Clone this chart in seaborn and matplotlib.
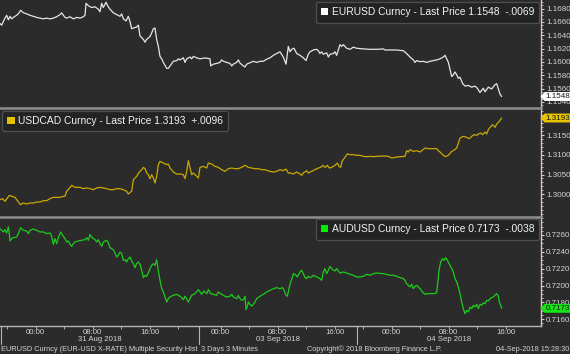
import matplotlib
matplotlib.use("Agg")
import matplotlib.pyplot as plt
import seaborn as sns
import pandas as pd
from matplotlib.patches import Patch
from matplotlib.path import Path
from matplotlib.lines import Line2D
import matplotlib.transforms as mtransforms
from matplotlib.ticker import MultipleLocator, FixedLocator, FormatStrFormatter

# ---------------- data (time in session hours, price) ----------------
EURUSD = [(0.00,1.16576),(0.23,1.16550),(0.47,1.16603),(0.70,1.16656),(0.94,1.16699),(1.17,1.16630),(1.40,1.16683),(1.64,1.16645),(1.87,1.16667),(2.34,1.16699),(2.57,1.16720),(2.90,1.16773),(3.28,1.16736),(3.75,1.16720),(4.21,1.16699),(4.68,1.16683),(5.15,1.16667),(5.62,1.16656),(6.09,1.16645),(6.55,1.16656),(7.02,1.16645),(7.49,1.16656),(7.96,1.16677),(8.43,1.16709),(8.66,1.16736),(8.90,1.16699),(9.13,1.16667),(9.36,1.16656),(9.83,1.16677),(10.30,1.16645),(10.77,1.16667),(11.24,1.16656),(11.70,1.16677),(11.94,1.16699),(12.08,1.16879),(12.41,1.16842),(12.87,1.16815),(13.34,1.16826),(13.81,1.16789),(14.04,1.16751),(14.28,1.16879),(14.51,1.16815),(14.89,1.16895),(15.12,1.16842),(15.45,1.16789),(15.92,1.16736),(16.39,1.16709),(16.85,1.16683),(17.09,1.16720),(17.32,1.16645),(17.70,1.16614),(18.02,1.16683),(18.26,1.16603),(18.49,1.16497),(18.73,1.16507),(19.19,1.16523),(19.43,1.16550),(19.66,1.16390),(20.13,1.16337),(20.37,1.16295),(20.60,1.16337),(21.07,1.16380),(21.30,1.16433),(21.54,1.16497),(21.77,1.16507),(22.00,1.16337),(22.24,1.16231),(22.47,1.16082),(22.71,1.16045),(22.94,1.15992),(23.41,1.15902),(23.64,1.15902),(23.88,1.15939),(24.11,1.15976),(24.34,1.16008),(24.81,1.16019),(25.05,1.16045),(25.28,1.16029),(25.75,1.16061),(25.98,1.15992),(26.22,1.16045),(26.69,1.16072),(26.92,1.16045),(27.15,1.16082),(27.62,1.16061),(28.09,1.16045),(28.56,1.16056),(29.03,1.16056),(29.49,1.16045),(29.59,1.15939),(29.96,1.15965),(30.43,1.15976),(30.90,1.15992),(31.13,1.16029),(31.37,1.16008),(31.84,1.15992),(32.30,1.15976),(32.54,1.15939),(32.77,1.15965),(33.24,1.15992),(33.47,1.16029),(33.71,1.15981),(34.18,1.15939),(34.41,1.15923),(34.64,1.15965),(35.11,1.15987),(35.58,1.16008),(36.05,1.15992),(36.52,1.16008),(36.99,1.16008),(37.45,1.16040),(37.92,1.16060),(38.39,1.16098),(38.86,1.16125),(39.32,1.16151),(39.79,1.16072),(40.17,1.15965),(40.49,1.16231),(40.73,1.16151),(40.96,1.16188),(41.29,1.16204),(41.67,1.16125),(42.13,1.16098),(42.60,1.16061),(42.98,1.16019),(43.30,1.16114),(43.54,1.16151),(44.01,1.16178),(44.47,1.16188),(44.71,1.16167),(44.94,1.16125),(45.18,1.16151),(45.41,1.16114),(45.88,1.16135),(46.11,1.16072),(46.35,1.16114),(46.82,1.16125),(47.05,1.16151),(47.28,1.16098),(47.52,1.16178),(47.75,1.16258),(47.99,1.16231),(48.22,1.16258),(48.69,1.16204),(49.16,1.16188),(49.62,1.16220),(50.09,1.16204),(51.03,1.16194),(51.97,1.16188),(52.90,1.16188),(53.84,1.16194),(54.07,1.16178),(54.77,1.16178),(55.71,1.16178),(56.65,1.16167),(57.11,1.16125),(57.58,1.16072),(58.05,1.16029),(58.29,1.15992),(58.52,1.16019),(58.99,1.16003),(59.46,1.16008),(59.92,1.15992),(60.39,1.16008),(60.86,1.16019),(61.33,1.16029),(61.80,1.16045),(62.26,1.16072),(62.50,1.16098),(62.73,1.16045),(62.97,1.15992),(63.20,1.15886),(63.44,1.15779),(63.67,1.15806),(63.90,1.15848),(64.14,1.15806),(64.37,1.15753),(64.61,1.15769),(64.98,1.15673),(65.31,1.15636),(65.78,1.15646),(66.24,1.15620),(66.71,1.15636),(67.04,1.15604),(67.41,1.15540),(67.88,1.15604),(68.12,1.15551),(68.58,1.15620),(69.05,1.15593),(69.52,1.15657),(69.76,1.15673),(69.99,1.15593),(70.23,1.15514),(70.45,1.15480)]

USDCAD = [(0.00,1.29865),(0.37,1.29890),(0.70,1.29823),(1.03,1.29907),(1.31,1.29974),(1.64,1.29949),(2.11,1.29923),(2.34,1.29865),(2.57,1.29806),(2.90,1.29738),(3.28,1.29780),(3.75,1.29755),(4.21,1.29780),(4.68,1.29780),(5.15,1.29806),(5.62,1.29806),(6.09,1.29839),(6.55,1.29839),(7.02,1.29890),(7.49,1.29923),(7.96,1.29923),(8.43,1.29923),(8.90,1.29949),(9.13,1.29949),(9.36,1.30075),(9.83,1.30176),(10.07,1.30227),(10.53,1.30176),(11.24,1.30176),(11.70,1.30143),(12.17,1.30160),(12.64,1.30143),(13.11,1.30117),(13.58,1.30160),(14.04,1.30176),(14.51,1.30160),(14.98,1.30143),(15.45,1.30117),(15.92,1.30117),(16.39,1.30143),(16.85,1.30143),(17.32,1.30117),(17.79,1.30075),(18.02,1.30008),(18.35,1.30058),(18.49,1.30075),(18.73,1.30370),(18.96,1.30412),(19.19,1.30455),(19.57,1.30564),(19.90,1.30623),(20.13,1.30682),(20.37,1.30648),(20.60,1.30539),(20.83,1.30497),(21.07,1.30395),(21.30,1.30497),(21.54,1.30412),(21.77,1.30286),(22.00,1.30455),(22.24,1.30750),(22.47,1.30834),(22.94,1.30792),(23.41,1.30750),(23.64,1.30766),(23.88,1.30665),(24.34,1.30564),(24.81,1.30514),(25.28,1.30514),(25.75,1.30497),(25.98,1.30395),(26.22,1.30581),(26.45,1.30851),(26.69,1.30665),(26.92,1.30497),(27.15,1.30539),(27.62,1.30455),(27.86,1.30412),(28.09,1.30682),(28.56,1.30707),(29.03,1.30665),(29.26,1.30792),(29.73,1.30766),(30.20,1.30707),(30.66,1.30682),(31.13,1.30623),(31.60,1.30581),(32.07,1.30648),(32.54,1.30665),(33.01,1.30648),(33.47,1.30648),(33.94,1.30682),(34.41,1.30733),(34.88,1.30682),(35.35,1.30665),(35.81,1.30648),(36.28,1.30648),(36.75,1.30623),(37.22,1.30623),(37.92,1.30580),(38.39,1.30564),(38.86,1.30581),(39.32,1.30623),(39.79,1.30598),(40.17,1.30640),(40.49,1.30539),(40.82,1.30539),(41.20,1.30514),(41.67,1.30564),(42.13,1.30514),(42.37,1.30480),(42.60,1.30539),(43.07,1.30598),(43.30,1.30539),(43.77,1.30581),(44.24,1.30623),(44.71,1.30665),(45.04,1.30682),(45.32,1.30733),(45.64,1.30682),(45.97,1.30733),(46.25,1.30665),(46.58,1.30682),(47.05,1.30733),(47.38,1.30792),(47.61,1.30707),(47.85,1.30682),(48.03,1.30834),(48.45,1.30935),(48.78,1.31020),(49.16,1.31003),(49.62,1.31003),(50.09,1.30986),(50.56,1.30986),(51.03,1.30960),(51.50,1.30952),(51.97,1.30960),(52.43,1.30952),(52.90,1.30960),(53.84,1.30969),(54.54,1.30960),(55.01,1.30918),(55.48,1.30935),(56.18,1.30952),(56.88,1.30960),(57.11,1.31104),(57.35,1.31070),(57.58,1.31129),(58.05,1.31087),(58.52,1.31104),(58.99,1.31070),(59.46,1.31137),(59.69,1.31171),(60.16,1.31154),(60.86,1.31154),(61.33,1.31154),(61.56,1.31104),(61.80,1.31070),(62.17,1.31003),(62.50,1.30952),(62.97,1.30986),(63.44,1.31087),(63.67,1.31104),(64.14,1.31171),(64.37,1.31298),(64.61,1.31424),(65.07,1.31466),(65.54,1.31441),(65.92,1.31407),(66.24,1.31466),(66.57,1.31509),(66.95,1.31492),(67.18,1.31525),(67.51,1.31551),(67.79,1.31509),(68.12,1.31576),(68.35,1.31525),(68.58,1.31635),(68.82,1.31694),(69.19,1.31762),(69.52,1.31694),(69.76,1.31778),(70.13,1.31846),(70.45,1.31930)]

AUDUSD = [(0.00,0.72675),(0.23,0.72655),(0.47,0.72636),(0.70,0.72663),(0.94,0.72624),(1.17,0.72695),(1.31,0.72616),(1.40,0.72529),(1.64,0.72557),(1.87,0.72568),(2.34,0.72576),(2.57,0.72616),(2.90,0.72687),(3.28,0.72655),(3.75,0.72647),(3.98,0.72616),(4.21,0.72655),(4.68,0.72671),(5.15,0.72655),(5.62,0.72636),(6.09,0.72636),(6.55,0.72616),(7.02,0.72624),(7.26,0.72584),(7.49,0.72489),(7.72,0.72557),(7.96,0.72497),(8.19,0.72568),(8.52,0.72636),(8.80,0.72596),(9.13,0.72557),(9.36,0.72517),(9.60,0.72529),(9.83,0.72489),(10.07,0.72466),(10.30,0.72497),(10.53,0.72517),(11.00,0.72529),(11.47,0.72537),(11.94,0.72545),(12.17,0.72568),(12.41,0.72537),(12.64,0.72608),(12.87,0.72576),(13.11,0.72557),(13.34,0.72545),(13.58,0.72517),(13.81,0.72545),(14.04,0.72497),(14.28,0.72466),(14.51,0.72517),(14.98,0.72537),(15.22,0.72505),(15.45,0.72450),(15.92,0.72426),(16.15,0.72387),(16.39,0.72339),(16.62,0.72359),(16.85,0.72398),(17.09,0.72379),(17.32,0.72299),(17.56,0.72307),(17.79,0.72280),(18.02,0.72319),(18.26,0.72339),(18.49,0.72292),(18.73,0.72260),(18.96,0.72212),(19.19,0.72260),(19.43,0.72280),(19.66,0.72252),(19.90,0.72181),(20.13,0.72094),(20.37,0.72122),(20.60,0.72110),(20.83,0.72149),(21.07,0.72201),(21.30,0.72240),(21.54,0.72260),(21.77,0.72240),(22.00,0.72307),(22.24,0.72173),(22.47,0.72062),(22.71,0.71963),(22.94,0.71924),(23.17,0.71865),(23.41,0.71805),(23.64,0.71845),(23.88,0.71865),(24.34,0.71884),(24.81,0.71896),(25.28,0.71873),(25.51,0.71857),(25.75,0.71833),(25.98,0.71873),(26.45,0.71805),(26.69,0.71845),(26.92,0.71884),(27.39,0.71904),(27.86,0.71952),(28.09,0.71924),(28.32,0.71896),(28.65,0.71936),(29.03,0.71904),(29.26,0.71952),(29.59,0.71904),(29.96,0.71896),(30.43,0.71884),(30.66,0.71924),(31.13,0.71896),(31.60,0.71873),(31.84,0.71865),(32.30,0.71873),(32.54,0.71896),(32.77,0.71865),(33.24,0.71845),(33.47,0.71884),(33.71,0.71845),(33.94,0.71825),(34.18,0.71833),(34.41,0.71873),(34.55,0.71714),(34.74,0.71754),(34.88,0.71805),(35.11,0.71778),(35.35,0.71754),(35.58,0.71778),(35.81,0.71805),(36.05,0.71845),(36.52,0.71873),(36.99,0.71896),(37.45,0.71924),(37.92,0.71944),(38.39,0.71963),(38.86,0.71975),(39.32,0.71963),(39.70,0.71975),(39.89,0.71944),(40.17,0.71884),(40.35,0.71873),(40.64,0.71983),(40.82,0.72043),(41.01,0.72082),(41.20,0.72141),(41.43,0.72133),(41.76,0.72102),(42.13,0.72161),(42.37,0.72181),(42.60,0.72141),(42.84,0.72094),(43.07,0.72082),(43.30,0.72110),(43.54,0.72094),(43.77,0.72102),(44.01,0.72122),(44.47,0.72102),(44.94,0.72082),(45.18,0.72062),(45.41,0.72161),(45.64,0.72201),(45.88,0.72141),(46.11,0.72181),(46.35,0.72228),(46.58,0.72201),(46.82,0.72181),(47.05,0.72173),(47.28,0.72201),(47.75,0.72149),(48.22,0.72161),(48.69,0.72149),(49.16,0.72133),(49.62,0.72122),(50.09,0.72102),(50.56,0.72102),(51.03,0.72110),(51.50,0.72133),(51.97,0.72122),(52.43,0.72141),(52.90,0.72149),(53.84,0.72141),(54.31,0.72133),(54.77,0.72122),(55.24,0.72122),(55.71,0.72110),(56.18,0.72094),(56.65,0.72082),(56.88,0.72062),(57.11,0.72023),(57.35,0.72003),(57.58,0.71983),(57.82,0.72015),(58.05,0.71963),(58.29,0.71991),(58.52,0.72003),(58.75,0.71983),(58.99,0.71963),(59.22,0.71936),(59.46,0.71912),(59.69,0.71896),(59.92,0.71904),(60.39,0.71904),(60.86,0.71904),(61.33,0.71912),(61.47,0.72023),(61.66,0.72181),(61.89,0.72280),(62.17,0.72319),(62.36,0.72299),(62.59,0.72331),(62.83,0.72299),(63.20,0.72240),(63.44,0.72201),(63.67,0.72161),(63.90,0.72082),(64.14,0.72043),(64.37,0.71983),(64.61,0.71904),(64.84,0.71805),(65.07,0.71726),(65.31,0.71667),(65.54,0.71706),(65.78,0.71687),(66.01,0.71746),(66.24,0.71726),(66.48,0.71766),(66.71,0.71746),(66.95,0.71778),(67.18,0.71726),(67.41,0.71778),(67.65,0.71766),(67.88,0.71793),(68.12,0.71786),(68.35,0.71825),(68.58,0.71817),(68.82,0.71845),(69.05,0.71857),(69.29,0.71865),(69.52,0.71884),(69.76,0.71904),(69.99,0.71873),(70.13,0.71805),(70.32,0.71766),(70.45,0.71730)]

SERIES_NAMES = ["EURUSD", "USDCAD", "AUDUSD"]
LAST_PRICES = [1.1548, 1.3193, 0.7173]
CHANGES = ["-.0069", "+.0096", "-.0038"]

Y_TICKS = [
    [1.1540, 1.1560, 1.1580, 1.1600, 1.1620, 1.1640, 1.1660, 1.1680],
    [1.3000, 1.3050, 1.3100, 1.3150],
    [0.7160, 0.7180, 0.7200, 0.7220, 0.7240, 0.7260],
]

TICK_HOURS = [1, 5, 9, 13, 17, 21, 25, 28, 31, 35, 39, 43, 47, 50.1, 51, 55, 59, 63, 67, 71]
TICK_LABELS = ["", "00:00", "", "08:00", "", "16:00", "", "", "00:00", "", "08:00", "", "16:00", "", "", "00:00", "", "08:00", "", "16:00"]
DAY_BREAKS = [28.0, 50.1]
DATE_LABELS = ["31 Aug 2018", "03 Sep 2018", "04 Sep 2018"]
DATE_CENTERS = [14.0, 39.0, 63.0]

FOOTER = ["EURUSD Curncy (EUR-USD X-RATE) Multiple Security Hist", "3 Days 3 Minutes",
          "Copyright\u00a9 2018 Bloomberg Finance L.P.", "04-Sep-2018 15:28:30"]

# ---------------- style ----------------
sns.set_theme(style="dark")
plt.rcParams["font.family"] = ["Liberation Sans", "DejaVu Sans"]

BG = "#2b2b2b"
TXT = "#d4d4d4"
AXCOL = "#dcc4c4"
SEP = "#8e8e8e"

LINE_COLORS = ["#e6e6e6", "#c9a900", "#1ccc1c"]
SQUARE_COLORS = ["#ffffff", "#e3c100", "#00f000"]
TAG_COLORS = ["#ffffff", "#e8c400", "#14e614"]
YLIMS = [(1.15315, 1.16928), (1.29426, 1.32196), (0.71526, 0.728135)]
YMINOR = [0.0005, 0.001, 0.0005]
XMAX = 75.91

fig = plt.figure(figsize=(5.7, 3.54), dpi=100, facecolor=BG)
H = 354.0
W = 540.5 / 570
rows_px = [(0.0, 107.5), (107.5, 217.0), (217.0, 325.5)]

def tag_box(x0, y0, width, height, mutation_size):
    pad = 0.12 * mutation_size
    x0 -= pad; y0 -= pad; width += 2 * pad; height += 2 * pad
    tip = height * 0.45
    verts = [(x0 - tip, y0 + height / 2), (x0, y0), (x0 + width, y0),
             (x0 + width, y0 + height), (x0, y0 + height), (x0 - tip, y0 + height / 2),
             (x0 - tip, y0 + height / 2)]
    codes = [Path.MOVETO] + [Path.LINETO] * 5 + [Path.CLOSEPOLY]
    return Path(verts, codes)

axes = []
datasets = [EURUSD, USDCAD, AUDUSD]
for i, (top, bot) in enumerate(rows_px):
    ax = fig.add_axes([0, 1 - bot / H, W, (bot - top) / H])
    ax.set_facecolor(BG)
    df = pd.DataFrame(datasets[i], columns=["t", "price"])
    sns.lineplot(data=df, x="t", y="price", ax=ax, color=LINE_COLORS[i],
                 linewidth=0.9, estimator=None, sort=False)
    ax.set_xlim(0, XMAX)
    ax.set_ylim(*YLIMS[i])
    ax.set_xlabel(""); ax.set_ylabel("")
    ax.grid(False)
    # right axis
    ax.yaxis.tick_right()
    ax.yaxis.set_major_locator(FixedLocator(Y_TICKS[i]))
    ax.yaxis.set_minor_locator(MultipleLocator(YMINOR[i]))
    ax.yaxis.set_major_formatter(FormatStrFormatter("%.4f"))
    ax.tick_params(axis="y", which="major", right=True, left=False, length=2.5, width=0.8,
                   color=AXCOL, labelsize=5.8, labelcolor=TXT, pad=1.5)
    ax.tick_params(axis="y", which="minor", right=True, left=False, length=1.2, width=0.6, color=AXCOL)
    for s in ["left", "bottom", "top"]:
        ax.spines[s].set_visible(False)
    ax.spines["right"].set_color(AXCOL)
    ax.spines["right"].set_linewidth(1.0)
    if i > 0:
        ax.spines["top"].set_visible(True)
        ax.spines["top"].set_color(SEP)
        ax.spines["top"].set_linewidth(1.8)
    # legend
    name = SERIES_NAMES[i]
    label = f"{name} Curncy - Last Price {LAST_PRICES[i]:.4f}  {CHANGES[i]}"
    handle = Patch(facecolor=SQUARE_COLORS[i], edgecolor="none")
    hpx = bot - top
    if i == 1:
        loc, anchor = "upper left", (2.3 / 540.5, 1 - 3.6 / hpx)
    else:
        loc, anchor = "upper right", (1 - 1.3 / 540.5, 1 - 2.3 / hpx)
    leg = ax.legend([handle], [label], loc=loc, bbox_to_anchor=anchor, borderaxespad=0,
                    fontsize=7.4, labelcolor="#f2f2f2", handlelength=0.7, handleheight=0.7,
                    handletextpad=0.35, borderpad=0.5, frameon=True, fancybox=True,
                    facecolor="#232323", edgecolor="#4e4e4e", framealpha=1.0)
    leg.get_frame().set_linewidth(0.9)
    leg.set_zorder(6)
    # last price tag
    ax.annotate(f"{LAST_PRICES[i]:.4f}", xy=(1.0, LAST_PRICES[i]),
                xycoords=ax.get_yaxis_transform(), xytext=(3.6, 0), textcoords="offset points",
                ha="left", va="center", fontsize=5.8, color="#151515",
                bbox=dict(boxstyle=tag_box, fc=TAG_COLORS[i], ec="none"),
                annotation_clip=False, zorder=10)
    axes.append(ax)

# x axis on bottom panel
ax1, ax2, ax3 = axes
for ax in (ax1, ax2):
    ax.tick_params(axis="x", bottom=False, labelbottom=False)
ax3.spines["bottom"].set_visible(True)
ax3.spines["bottom"].set_color("#b4b4b4")
ax3.spines["bottom"].set_linewidth(1.0)
ax3.set_xticks(TICK_HOURS)
ax3.set_xticklabels(TICK_LABELS)
ax3.tick_params(axis="x", bottom=True, length=2.2, width=0.7, color="#b4b4b4",
                labelsize=5.6, labelcolor=TXT, pad=0.3)

# day separators and date labels
trans = mtransforms.blended_transform_factory(ax3.transData, fig.transFigure)
for xb in DAY_BREAKS:
    fig.add_artist(Line2D([xb, xb], [1 - 344 / H, 1 - 325.5 / H], transform=trans,
                          color="#b4b4b4", lw=0.8))
fig.add_artist(Line2D([0.0025, 0.0025], [1 - 344 / H, 1 - 325.5 / H], transform=fig.transFigure,
                      color="#b4b4b4", lw=0.8))
for lab, xc in zip(DATE_LABELS, DATE_CENTERS):
    fig.text(xc, 1 - 339.5 / H, lab, transform=trans, ha="center", va="center",
             fontsize=5.6, color=TXT)

# footer
fy = 1 - 349.5 / H
fig.text(1 / 570, fy, FOOTER[0], ha="left", va="center", fontsize=5.3, color=TXT)
fig.text(201 / 570, fy, FOOTER[1], ha="left", va="center", fontsize=5.3, color=TXT)
fig.text(307 / 570, fy, FOOTER[2], ha="left", va="center", fontsize=5.3, color=TXT)
fig.text(569 / 570, fy, FOOTER[3], ha="right", va="center", fontsize=5.3, color=TXT)

fig.savefig("out.png", dpi=100, facecolor=BG)
